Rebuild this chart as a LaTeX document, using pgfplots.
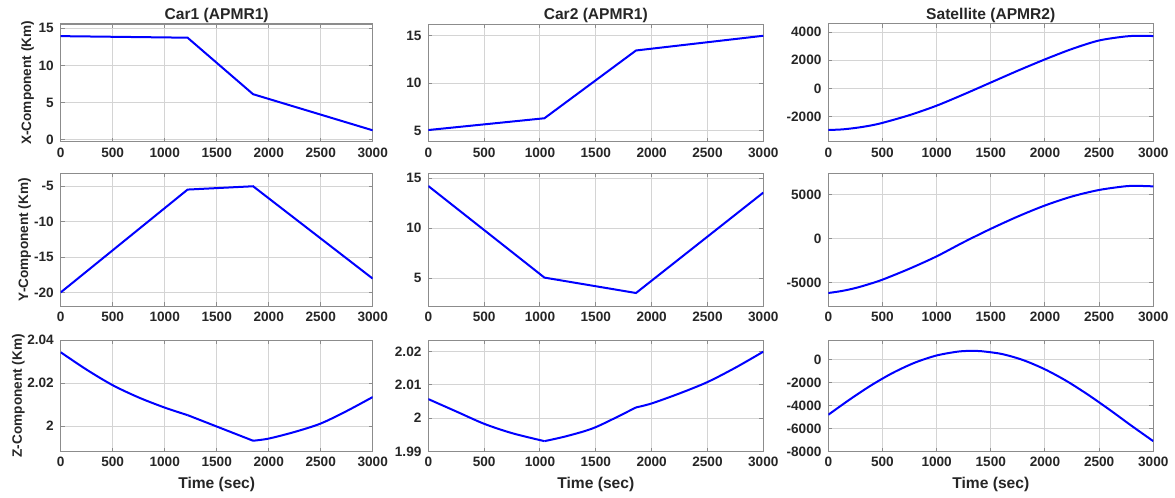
\documentclass[border=0pt]{standalone}
\usepackage{fontspec}
\setmainfont{Liberation Sans}
\usepackage{pgfplots}
\pgfplotsset{compat=1.18}
\definecolor{txt}{HTML}{262626}
\pgfplotsset{
  panel/.style={
    scale only axis, xmin=0, xmax=3000, xtick={0,500,...,3000},
    grid=major, grid style={black!17, line width=0.5pt},
    axis line style={black!45, line width=0.5pt},
    tick style={black!45, line width=0.5pt}, major tick length=2pt, tick align=inside,
    tick label style={font=\fontsize{6.8}{8}\selectfont\bfseries, text=txt},
    xticklabel style={inner sep=0pt, anchor=north, yshift=-2.75pt},
    yticklabel style={inner sep=0pt, anchor=east, xshift=-3.25pt},
    scaled ticks=false,
    /pgf/number format/1000 sep={},
    /pgf/number format/assume math mode=true,
    every axis title shift=0pt,
    title style={font=\fontsize{7.8}{9}\selectfont\bfseries, text=txt, inner sep=0pt, at={(0.5,1)}, anchor=base, yshift=2.25pt},
    xlabel style={font=\fontsize{7.8}{9}\selectfont\bfseries, text=txt, inner sep=0pt, at={(axis description cs:0.5,0)}, anchor=base, yshift=-18.5pt},
    ylabel style={font=\fontsize{6.8}{8}\selectfont\bfseries, text=txt, inner sep=0pt, anchor=center},
  },
  curve/.style={blue, line width=1pt, no markers},
  c1/.style={at={(30.35pt,0pt)}, width=156pt},
  c2/.style={at={(214.15pt,0pt)}, width=167.5pt},
  c3/.style={at={(414.15pt,0pt)}, width=162.5pt},
  r1/.style={yshift=-70.85pt, height=58.85pt},
  r2/.style={yshift=-153pt, height=66.35pt},
  r3/.style={yshift=-225.75pt, height=55.75pt},
}
\begin{document}
\begin{tikzpicture}
\path[use as bounding box] (0,0) rectangle (587.5pt,-249pt);
% ---------- Row 1: X ----------
\begin{axis}[panel, c1, r1, anchor=south west, ymin=-0.23, ymax=15.58, ytick={0,5,10,15},
  title={Car1 (APMR1)}, ylabel={X-Component (Km)}, ylabel style={at={(axis description cs:-0.106,0.5)}}]
\addplot[curve] coordinates {(0,13.95) (1220,13.74) (1850,6.15) (3000,1.3)};
\end{axis}
\begin{axis}[panel, c2, r1, anchor=south west, ymin=3.84, ymax=16.24, ytick={5,10,15},
  title={Car2 (APMR1)}]
\addplot[curve] coordinates {(0,5.07) (1040,6.31) (1860,13.45) (3000,15.0)};
\end{axis}
\begin{axis}[panel, c3, r1, anchor=south west, ymin=-3775, ymax=4568, ytick={-2000,0,2000,4000},
  title={Satellite (APMR2)}]
\addplot[curve, smooth] coordinates {(0,-2945) (125,-2905) (250,-2800) (375,-2650) (500,-2440) (750,-1890) (1000,-1220) (1250,-420) (1500,420) (1750,1260) (2000,2060) (2250,2800) (2500,3400) (2750,3690) (2900,3732) (3000,3712)};
\end{axis}
% ---------- Row 2: Y ----------
\begin{axis}[panel, c1, r2, anchor=south west, ymin=-21.92, ymax=-3.17, ytick={-20,-15,-10,-5},
  ylabel={Y-Component (Km)}, ylabel style={at={(axis description cs:-0.116,0.5)}}]
\addplot[curve] coordinates {(0,-20.0) (1220,-5.47) (1850,-5.0) (3000,-18.05)};
\end{axis}
\begin{axis}[panel, c2, r2, anchor=south west, ymin=2.23, ymax=15.5, ytick={5,10,15}]
\addplot[curve] coordinates {(0,14.23) (1040,5.07) (1860,3.53) (3000,13.57)};
\end{axis}
\begin{axis}[panel, c3, r2, anchor=south west, ymin=-7662, ymax=7471, ytick={-5000,0,5000}]
\addplot[curve, smooth] coordinates {(0,-6180) (125,-5950) (250,-5616) (375,-5170) (500,-4658) (750,-3404) (1000,-2000) (1250,-380) (1500,1141) (1750,2548) (2000,3802) (2250,4829) (2500,5570) (2750,6000) (2880,6030) (3000,5980)};
\end{axis}
% ---------- Row 3: Z ----------
\begin{axis}[panel, c1, r3, anchor=south west, ymin=1.9882, ymax=2.04, ytick={2,2.02,2.04},
  xlabel={Time (sec)}, ylabel={Z-Component (Km)}, ylabel style={at={(axis description cs:-0.136,0.5)}}]
\addplot[curve, smooth] coordinates {(0,2.0343) (250,2.0262) (500,2.0190) (750,2.0133) (1000,2.0086) (1220,2.0051)};
\addplot[curve] coordinates {(1220,2.0051) (1850,1.9932)};
\addplot[curve, smooth] coordinates {(1850,1.9932) (2000,1.9942) (2250,1.9973) (2500,2.0012) (2750,2.0070) (3000,2.0135)};
\end{axis}
\begin{axis}[panel, c2, r3, anchor=south west, ymin=1.99, ymax=2.0234, ytick={1.99,2,2.01,2.02},
  xlabel={Time (sec)}]
\addplot[curve, smooth] coordinates {(0,2.0057) (250,2.0020) (500,1.9983) (750,1.9955) (1040,1.9931)};
\addplot[curve, smooth] coordinates {(1040,1.9931) (1250,1.9947) (1500,1.9973) (1860,2.0032)};
\addplot[curve, smooth] coordinates {(1860,2.0032) (2000,2.0044) (2250,2.0074) (2500,2.0108) (2750,2.0151) (3000,2.0199)};
\end{axis}
\begin{axis}[panel, c3, r3, anchor=south west, ymin=-8000, ymax=1714, ytick={-8000,-6000,-4000,-2000,0},
  xlabel={Time (sec)}]
\addplot[curve, smooth] coordinates {(0,-4800) (200,-3455) (400,-2209) (600,-1127) (800,-255) (1000,367) (1200,708) (1330,771) (1400,752) (1600,499) (1800,-41) (2000,-843) (2200,-1862) (2400,-3067) (2600,-4385) (2800,-5765) (3000,-7100)};
\end{axis}
\end{tikzpicture}
\end{document}
